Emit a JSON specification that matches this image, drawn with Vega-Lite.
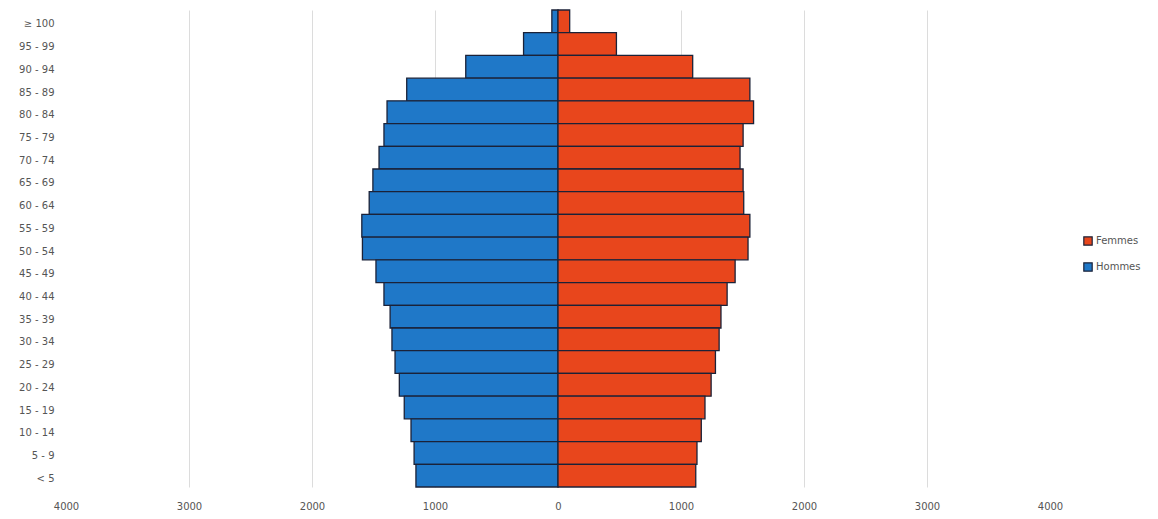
{
  "$schema": "https://vega.github.io/schema/vega-lite/v6.json",
  "width": 984,
  "height": 477,
  "autosize": {"type": "none"},
  "padding": {"left": 66, "top": 10, "right": 108, "bottom": 32},
  "background": "white",
  "config": {
    "view": {"stroke": null},
    "font": "DejaVu Sans"
  },
  "data": {
    "values": [
      {"age": "≥ 100", "sexe": "Hommes", "effectif": 50},
      {"age": "≥ 100", "sexe": "Femmes", "effectif": 95},
      {"age": "95 - 99", "sexe": "Hommes", "effectif": 280},
      {"age": "95 - 99", "sexe": "Femmes", "effectif": 475},
      {"age": "90 - 94", "sexe": "Hommes", "effectif": 750},
      {"age": "90 - 94", "sexe": "Femmes", "effectif": 1095},
      {"age": "85 - 89", "sexe": "Hommes", "effectif": 1230},
      {"age": "85 - 89", "sexe": "Femmes", "effectif": 1560},
      {"age": "80 - 84", "sexe": "Hommes", "effectif": 1390},
      {"age": "80 - 84", "sexe": "Femmes", "effectif": 1590},
      {"age": "75 - 79", "sexe": "Hommes", "effectif": 1415},
      {"age": "75 - 79", "sexe": "Femmes", "effectif": 1505},
      {"age": "70 - 74", "sexe": "Hommes", "effectif": 1455},
      {"age": "70 - 74", "sexe": "Femmes", "effectif": 1480},
      {"age": "65 - 69", "sexe": "Hommes", "effectif": 1505},
      {"age": "65 - 69", "sexe": "Femmes", "effectif": 1505},
      {"age": "60 - 64", "sexe": "Hommes", "effectif": 1535},
      {"age": "60 - 64", "sexe": "Femmes", "effectif": 1510},
      {"age": "55 - 59", "sexe": "Hommes", "effectif": 1595},
      {"age": "55 - 59", "sexe": "Femmes", "effectif": 1560},
      {"age": "50 - 54", "sexe": "Hommes", "effectif": 1590},
      {"age": "50 - 54", "sexe": "Femmes", "effectif": 1545},
      {"age": "45 - 49", "sexe": "Hommes", "effectif": 1480},
      {"age": "45 - 49", "sexe": "Femmes", "effectif": 1440},
      {"age": "40 - 44", "sexe": "Hommes", "effectif": 1415},
      {"age": "40 - 44", "sexe": "Femmes", "effectif": 1375},
      {"age": "35 - 39", "sexe": "Hommes", "effectif": 1365},
      {"age": "35 - 39", "sexe": "Femmes", "effectif": 1325},
      {"age": "30 - 34", "sexe": "Hommes", "effectif": 1350},
      {"age": "30 - 34", "sexe": "Femmes", "effectif": 1310},
      {"age": "25 - 29", "sexe": "Hommes", "effectif": 1325},
      {"age": "25 - 29", "sexe": "Femmes", "effectif": 1280},
      {"age": "20 - 24", "sexe": "Hommes", "effectif": 1290},
      {"age": "20 - 24", "sexe": "Femmes", "effectif": 1245},
      {"age": "15 - 19", "sexe": "Hommes", "effectif": 1250},
      {"age": "15 - 19", "sexe": "Femmes", "effectif": 1195},
      {"age": "10 - 14", "sexe": "Hommes", "effectif": 1195},
      {"age": "10 - 14", "sexe": "Femmes", "effectif": 1165},
      {"age": "5 - 9", "sexe": "Hommes", "effectif": 1170},
      {"age": "5 - 9", "sexe": "Femmes", "effectif": 1130},
      {"age": "< 5", "sexe": "Hommes", "effectif": 1155},
      {"age": "< 5", "sexe": "Femmes", "effectif": 1120}
    ]
  },
  "transform": [
    {"calculate": "datum.sexe === 'Hommes' ? -datum.effectif : datum.effectif", "as": "signe"}
  ],
  "mark": {"type": "bar", "stroke": "#1b2238", "strokeWidth": 1.3},
  "encoding": {
    "y": {
      "field": "age",
      "type": "nominal",
      "sort": null,
      "scale": {"paddingInner": 0, "paddingOuter": 0},
      "axis": {
        "title": null,
        "domain": false,
        "ticks": false,
        "labelPadding": 12,
        "labelOffset": 3,
        "labelFontSize": 10,
        "labelColor": "#555555",
        "labelFont": "DejaVu Sans"
      }
    },
    "x": {
      "field": "signe",
      "type": "quantitative",
      "scale": {"domain": [-4000, 4000], "nice": false},
      "axis": {
        "title": null,
        "values": [-4000, -3000, -2000, -1000, 0, 1000, 2000, 3000, 4000],
        "labelExpr": "format(abs(datum.value), 'd')",
        "labelFlush": false,
        "domain": false,
        "ticks": false,
        "labelPadding": 14,
        "labelFontSize": 10,
        "labelColor": "#555555",
        "gridColor": "#dcdcdc",
        "gridWidth": 1,
        "gridOpacity": {"condition": {"test": "abs(datum.value) == 4000", "value": 0}, "value": 1}
      }
    },
    "color": {
      "field": "sexe",
      "type": "nominal",
      "scale": {"domain": ["Femmes", "Hommes"], "range": ["#e8461c", "#1f78c8"]},
      "legend": {
        "title": null,
        "orient": "none",
        "legendX": 1017,
        "legendY": 226,
        "symbolType": "square",
        "symbolSize": 70,
        "symbolStrokeColor": "#1b2238",
        "symbolStrokeWidth": 1.2,
        "labelFontSize": 10,
        "labelColor": "#555555",
        "rowPadding": 12,
        "labelOffset": 3
      }
    }
  }
}
